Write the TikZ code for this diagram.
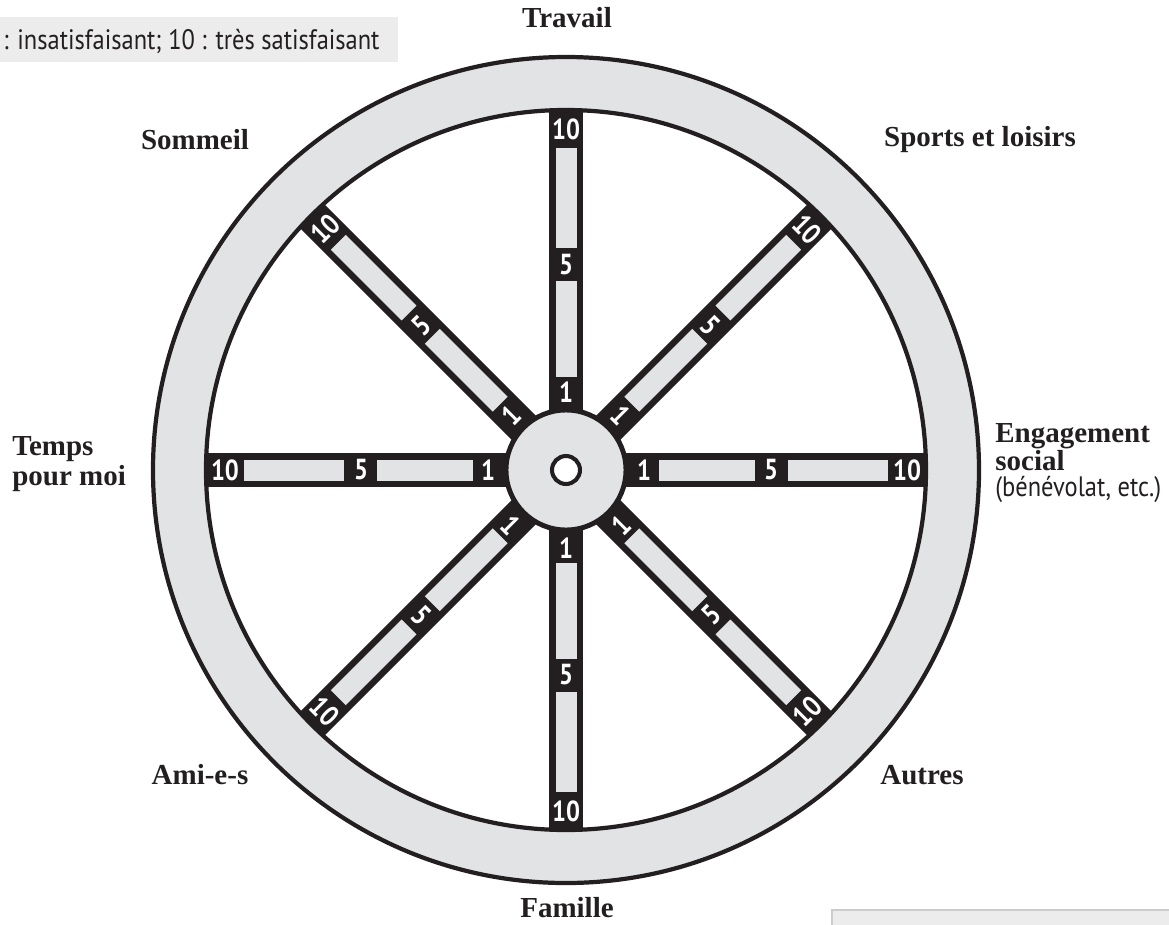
\documentclass[tikz,border=0pt]{standalone}
\usepackage{fontspec}
\setmainfont{Liberation Serif}
\newfontfamily\condfont[FakeStretch=0.85]{PT Sans}
\newfontfamily\notefont[FakeStretch=0.87]{PT Sans}
\usetikzlibrary{positioning}

\definecolor{ink}{RGB}{35,31,32}
\definecolor{wheelgray}{RGB}{226,227,229}
\definecolor{notegray}{RGB}{236,236,236}

\tikzset{
  area/.style={font=\bfseries\fontsize{16.5}{17}\selectfont, text=ink, inner sep=0pt},
  note/.style={font=\notefont\fontsize{16}{18}\selectfont, text=ink, inner sep=0pt},
  tick/.style={font=\condfont\bfseries\fontsize{16.5}{16}\selectfont, text=white, inner sep=0pt},
}

\begin{document}
\begin{tikzpicture}[x=0.02cm,y=0.02cm]
    \useasboundingbox (-566,-454) rectangle (603,470);

    % Legend strip (top left) and box (bottom right)
    \fill[notegray] (-566,453) rectangle (-168,408);
    \node[note, anchor=base west] (scale) at (-563,420) {: insatisfaisant; 10 : très satisfaisant};
    \filldraw[fill=notegray, draw=black!20, line width=1pt] (266,-440) rectangle (610,-470);

    % Spokes: 1, 5, 10 on each of the eight
    \foreach \a/\r in {0/0, 45/-45, 90/0, 135/45, 180/0, 225/-45, 270/0, 315/45} {
        \begin{scope}[rotate=\a]
            \fill[ink] (55,-17) rectangle (362,17);
            \fill[wheelgray] (93,-10.5) rectangle (189,10.5);
            \fill[wheelgray] (222,-10.5) rectangle (322,10.5);
        \end{scope}
        \node[tick, rotate=\r] (one\a) at (\a:78) {1};
        \node[tick, rotate=\r] (five\a) at (\a:205) {5};
        \node[tick, rotate=\r] (ten\a) at (\a:341) {10};
    }

    % Rim
    \fill[wheelgray, even odd rule] (0,0) circle (413) (0,0) circle (360);
    \draw[ink, line width=2.4pt] (0,0) circle (413) (0,0) circle (360);

    % Hub and axle
    \node[circle, draw=ink, fill=wheelgray, line width=2.8pt, minimum size=2.4cm] (hub) at (0,0) {};
    \node[circle, draw=ink, fill=white, line width=2.3pt, minimum size=0.56cm] (axle) at (hub) {};

    % Areas of life
    \node[area] (travail) at (1,452) {Travail};
    \node[area] (sports) at (414,330) {Sports et loisirs};
    \node[area] (sommeil) at (-371,330) {Sommeil};
    \node[area, anchor=north west, align=left, font=\bfseries\fontsize{16.5}{14}\selectfont] (engage) at (429,47) {Engagement\\social};
    \node[note, anchor=base west] (benevol) at (429,-26) {(bénévolat, etc.)};
    \node[area, anchor=north west, align=left] (temps) at (-554,34) {Temps\\pour moi};
    \node[area] (amis) at (-366,-305) {Ami-e-s};
    \node[area] (autres) at (356,-305) {Autres};
    \node[area] (famille) at (1,-438) {Famille};
\end{tikzpicture}
\end{document}
